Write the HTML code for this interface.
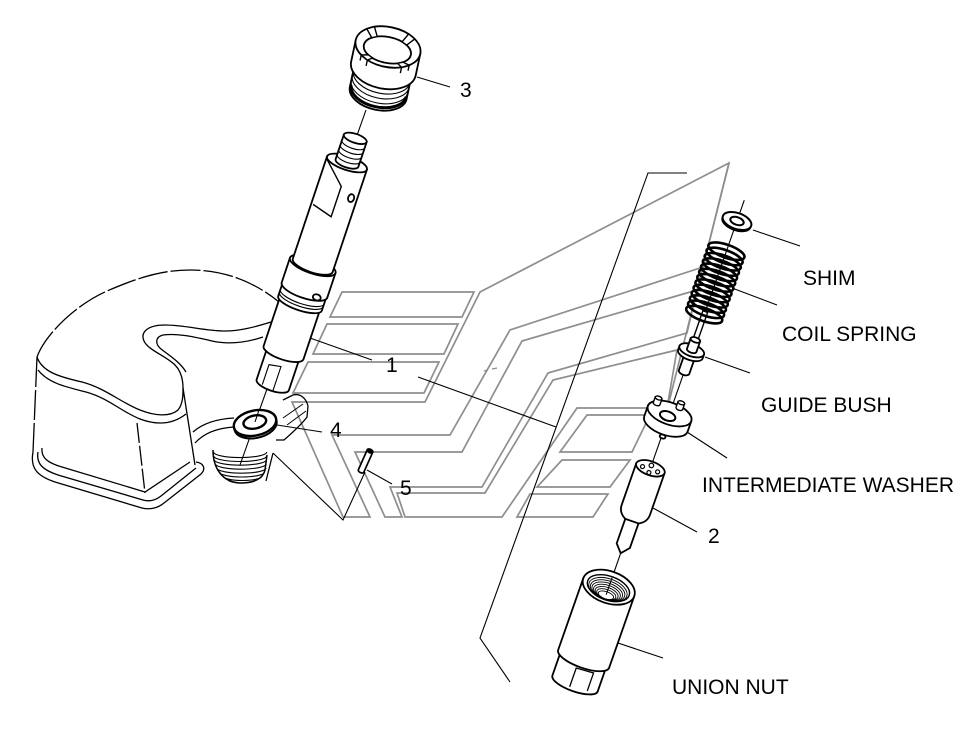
<!DOCTYPE html>
<html><head><meta charset="utf-8"><style>
html,body{margin:0;padding:0;background:#fff;}
svg{display:block;}
text{font-family:"Liberation Sans",Arial,sans-serif;font-size:21px;fill:#000;}
</style></head><body>
<svg width="980" height="737" viewBox="0 0 980 737" xmlns="http://www.w3.org/2000/svg">
<rect width="980" height="737" fill="#fff"/>

<!-- gray watermark bands -->
<g fill="none" stroke="#8e8e8e" stroke-width="1.7" stroke-linejoin="miter">
  <polygon points="729,163 480,292 425,402 292,402 343,517 370,517 332,435 450,435 510,330 703,267"/>
  <polygon points="697,290 522,341 462,452 355,452 385,517 402,517 390,487 482,487 548,373 687,333"/>
  <polygon points="677,350 553,380 485,493 397,493 405,517 502,517 577,408 667,408"/>
  <line x1="729" y1="163" x2="662" y2="430"/>
  <polygon points="342,292 474,292 462,317 330,317"/>
  <polygon points="327,324 458,324 444,354 313,354"/>
  <polygon points="308,362 439,362 424,393 293,393"/>
  <polygon points="587,415 650,415 632,452 560,452"/>
  <polygon points="562,460 630,460 610,487 537,487"/>
  <polygon points="530,494 608,494 593,517 517,517"/>
  <line x1="484" y1="371" x2="488" y2="370" stroke-width="1.2"/>
  <line x1="492" y1="369" x2="497" y2="368" stroke-width="1.2"/>
</g>

<!-- black thin leaders / bracket -->
<g fill="none" stroke="#000" stroke-width="1.1">
  <polyline points="687,173 648,173 480,638 510,682"/>
  <line x1="417" y1="77" x2="450" y2="87"/>
  <line x1="310" y1="338" x2="372" y2="360"/>
  <line x1="418" y1="377" x2="556" y2="427"/>
  <line x1="277" y1="425" x2="322" y2="432"/>
  <line x1="367" y1="470" x2="392" y2="484"/>
  <line x1="753" y1="230" x2="800" y2="246"/>
  <line x1="732" y1="288" x2="777" y2="305"/>
  <line x1="705" y1="357" x2="750" y2="373"/>
  <line x1="687" y1="432" x2="727" y2="458"/>
  <line x1="653" y1="508" x2="697" y2="532"/>
  <line x1="615" y1="642" x2="663" y2="658"/>
  <polyline points="273,453 343,520 365,472"/>
</g>

<!-- cylinder head -->
<g fill="none" stroke="#000" stroke-width="1.3">
  <path d="M37,357 C45,335 75,305 107,291 C135,279 160,270 190,270 C222,270 252,280 279,302" stroke-dasharray="30 3"/>
  <path d="M37,357 L33,452" stroke-dasharray="30 3"/>
  <path d="M37,357 C42,372 60,377 82,382 C105,388 120,402 140,410 C155,416 170,417 178,410 C183,404 183,395 183,388"/>
  <path d="M38,370 C48,383 66,387 86,392 C108,398 122,412 140,419 C156,425 172,425 186,414"/>
  <path d="M271,322 C255,327 240,331 225,331 C205,331 185,325 165,325 C148,325 140,332 144,341 C148,350 166,356 175,365 C181,371 183,380 183,388"/>
  <path d="M263,337 C248,342 230,345 212,341 C195,337 178,333 163,335 C155,337 155,344 161,349 C170,356 180,362 186,372"/>
  <path d="M183,388 L195,465"/>
  <path d="M137,423 L145,493" stroke-dasharray="20 3"/>
  <path d="M33,452 C30,468 37,476 55,482 L142,508 C150,510 158,508 164,503 L201,474 C206,469 204,463 196,462"/>
  <path d="M38,452 C36,464 43,470 58,475 L143,500 C150,502 156,500 161,496 L196,468"/>
  <path d="M42,448 C41,458 48,463 62,467 L145,492 L190,462"/>
  <path d="M193,432 C202,424 216,419 234,418"/>
  <path d="M195,443 C204,433 218,428 234,427"/>
  <path d="M276,440 L284,440 C292,433 302,424 307,417 L308,406 C306,398 300,393 293,395 L283,400"/>
  <path d="M283,418 L303,404 M287,425 L306,411" stroke-width="1"/>
  <path d="M273,453 L266,481"/>
  <!-- threaded hole (bowl) -->
  <path d="M213,450 C213,468 222,482 240,483 C255,483 263,478 265,470 L267,455" stroke-width="1.5"/>
  <g stroke-width="1.1">
    <path d="M213.5,452 A26.5,5.5 0 0 0 266.8,452"/>
    <path d="M213.8,456 A26.4,5.5 0 0 0 266.6,456"/>
    <path d="M214.2,460 A26.2,5.5 0 0 0 266.5,460"/>
    <path d="M215.3,464 A25.6,5.5 0 0 0 266.4,464"/>
    <path d="M217,468 A24.5,5.2 0 0 0 266,468"/>
    <path d="M219.5,472 A22.5,5 0 0 0 264.5,472"/>
    <path d="M223,476 A19.5,4.5 0 0 0 262,476"/>
    <path d="M228,479.5 A14,3.5 0 0 0 256,479.5"/>
  </g>
</g>

<line x1="366" y1="110" x2="240" y2="465" stroke="#000" stroke-width="1.1"/>

<!-- washer 4 -->
<g transform="translate(255,423) rotate(-12)" fill="#fff" stroke="#000">
  <ellipse cx="0" cy="2.5" rx="21.5" ry="12.5" stroke-width="2"/>
  <ellipse cx="0" cy="0" rx="21.5" ry="12.5" stroke-width="2.4"/>
  <ellipse cx="0" cy="-1" rx="11.5" ry="6.5" stroke-width="2.4"/>
</g>
<line x1="255" y1="422" x2="259" y2="410" stroke="#000" stroke-width="1.1"/>

<!-- pin 5 -->
<g transform="translate(370,451) rotate(24)" fill="#fff" stroke="#000" stroke-width="1.7">
  <path d="M-3,0 L-3,22 A3,1.6 0 0 0 3,22 L3,0 Z"/>
  <ellipse cx="0" cy="0" rx="3" ry="1.8" fill="#000"/>
</g>

<!-- injector body (1) -->
<g transform="translate(347,163) rotate(18.5)" fill="#fff" stroke="#000" stroke-width="1.8">
  <path d="M-17,198 L-17,234 A17,6 0 0 0 17,234 L17,198 Z"/>
  <path d="M-10,237 L-10,216 L2,214 L2,239" fill="none" stroke-width="1.1"/>
  <path d="M-21,145 L-21,200 A21,7 0 0 0 21,200 L21,145 Z"/>
  <path d="M-23,134 L-23,148 A23,7 0 0 0 23,148 L23,134 Z"/>
  <path d="M-23,141 A23,7 0 0 0 23,141" fill="none" stroke-width="1.1"/>
  <path d="M-23,144 A23,7 0 0 0 23,144" fill="none" stroke-width="1.1"/>
  <path d="M-24,108 L-24,134 A24,8 0 0 0 24,134 L24,108 Z"/>
  <ellipse cx="0" cy="108" rx="24" ry="8"/>
  <path d="M-21,0 L-21,108 A21,7 0 0 0 21,108 L21,0 Z"/>
  <ellipse cx="0" cy="0" rx="21" ry="7"/>
  <path d="M-21,2 L2,24 L2,56 L-19,50" fill="none" stroke-width="1.4"/>
  <ellipse cx="15" cy="32" rx="3" ry="4"/>
  <ellipse cx="14" cy="137" rx="4" ry="3"/>
  <path d="M-12,-26 L-12,0 A12,4.5 0 0 0 12,0 L12,-26 Z"/>
  <g fill="none" stroke-width="1.1">
    <path d="M-12,-20 A12,4.5 0 0 0 12,-20"/>
    <path d="M-12,-15 A12,4.5 0 0 0 12,-15"/>
    <path d="M-12,-10 A12,4.5 0 0 0 12,-10"/>
    <path d="M-12,-5 A12,4.5 0 0 0 12,-5"/>
  </g>
  <ellipse cx="0" cy="-26" rx="12" ry="4.5"/>
</g>

<!-- cap nut (3) -->
<g transform="translate(388,47) rotate(12)" fill="#fff" stroke="#000" stroke-width="1.8">
  <path d="M-29,20 L-29,47 A29,17 0 0 0 29,47 L29,20 Z"/>
  <g fill="none" stroke-width="1.1">
    <path d="M-29,30 A29,17 0 0 0 29,30"/>
    <path d="M-29,35 A29,17 0 0 0 29,35"/>
    <path d="M-29,40 A29,17 0 0 0 29,40"/>
  </g>
  <path d="M-28,45 A28,16 0 0 0 28,45" fill="none" stroke-width="3"/>
  <path d="M-33,0 L-33,22 A33,20 0 0 0 33,22 L33,0 Z"/>
  <ellipse cx="0" cy="0" rx="33" ry="20"/>
  <ellipse cx="0" cy="3" rx="24" ry="13"/>
  <g stroke-width="1.4">
    <polygon points="17.8,11.7 24.5,13.4 17.5,17 12.7,14"/>
    <polygon points="-12.7,14 -17.5,17 -24.5,13.4 -17.8,11.7"/>
    <polygon points="-17.8,-5.7 -24.5,-13.4 -17.5,-17 -12.7,-8"/>
    <polygon points="12.7,-8 17.5,-17 24.5,-13.4 17.8,-5.7"/>
    <path d="M24.5,13.4 L24.5,19 M17.5,17 L17.5,23 M-17.5,17 L-17.5,23 M-24.5,13.4 L-24.5,19" fill="none"/>
  </g>
</g>

<!-- right assembly -->
<g transform="translate(737,221) rotate(19.3)" fill="#fff" stroke="#000" stroke-width="1.8">
  <line x1="0" y1="-22" x2="0" y2="400" stroke-width="1.1"/>
  <!-- union nut -->
  <path d="M-24,462 L-24,490 A24,8 0 0 0 24,490 L24,462 Z"/>
  <path d="M-4,495 L-4,475 L14,474 L14,493" fill="none" stroke-width="1.3"/>
  <path d="M-27,388 L-27,464 A27,9 0 0 0 27,464 L27,388 Z"/>
  <ellipse cx="0" cy="388" rx="27" ry="16"/>
  <ellipse cx="0" cy="389" rx="22" ry="12" stroke-width="1.4"/>
  <g fill="none" stroke-width="0.9">
    <ellipse cx="0" cy="390.5" rx="20" ry="10.8"/>
    <ellipse cx="0" cy="391.5" rx="18" ry="9.6"/>
    <ellipse cx="0" cy="392.5" rx="16" ry="8.4"/>
    <ellipse cx="0" cy="393.5" rx="14" ry="7.2"/>
    <ellipse cx="0" cy="394.5" rx="12" ry="6"/>
    <ellipse cx="0" cy="395.5" rx="10" ry="4.8"/>
    <ellipse cx="0" cy="396.5" rx="8" ry="3.6"/>
  </g>
  <line x1="0" y1="378" x2="0" y2="396" stroke-width="1.1"/>
  <!-- nozzle -->
  <path d="M-7,314 L-7,344 L0,352 L7,344 L7,314 Z"/>
  <path d="M-15,262 L-15,306 Q-15,314 -7,318 L7,318 Q15,314 15,306 L15,262 Z"/>
  <ellipse cx="0" cy="262" rx="15" ry="7"/>
  <g stroke-width="1.2">
    <circle cx="-8" cy="263" r="2"/>
    <circle cx="0" cy="266.5" r="2"/>
    <circle cx="8" cy="263" r="2"/>
    <circle cx="0" cy="259" r="2.3"/>
  </g>
  <!-- intermediate washer -->
  <ellipse cx="1" cy="228" rx="3" ry="2"/>
  <path d="M-23,204 L-23,215 A23,11 0 0 0 23,215 L23,204 Z"/>
  <ellipse cx="0" cy="204" rx="23" ry="11"/>
  <path d="M4,190 L4,196 A3.5,1.8 0 0 0 11,196 L11,190 Z" stroke-width="1.4"/>
  <ellipse cx="7.5" cy="190" rx="3.5" ry="1.8" stroke-width="1.4"/>
  <path d="M-19,193 L-19,199 A3.5,1.8 0 0 0 -12,199 L-12,193 Z" stroke-width="1.4"/>
  <ellipse cx="-15.5" cy="193" rx="3.5" ry="1.8" stroke-width="1.4"/>
  <ellipse cx="-1" cy="207" rx="8" ry="4.5" stroke-width="2"/>
  <!-- guide bush -->
  <path d="M-5.5,141 L-5.5,160 A5.5,3 0 0 0 5.5,160 L5.5,141 Z"/>
  <path d="M-13,137 L-13,141 A13,6 0 0 0 13,141 L13,137 Z"/>
  <ellipse cx="0" cy="137" rx="13" ry="6"/>
  <path d="M-2.5,96 L-2.5,130 L2.5,130 L2.5,96 Z" stroke-width="1.4"/>
  <path d="M-5,126 L-5,137 A5,2.5 0 0 0 5,137 L5,126 Z"/>
  <ellipse cx="0" cy="126" rx="5" ry="2.5"/>
  <!-- spring -->
  <g fill="none" stroke-width="2.6">
    <ellipse cx="0" cy="32" rx="19" ry="6.5"/>
    <ellipse cx="0" cy="37.6" rx="19" ry="6.5"/>
    <ellipse cx="0" cy="43.2" rx="19" ry="6.5"/>
    <ellipse cx="0" cy="48.8" rx="19" ry="6.5"/>
    <ellipse cx="0" cy="54.4" rx="19" ry="6.5"/>
    <ellipse cx="0" cy="60" rx="19" ry="6.5"/>
    <ellipse cx="0" cy="65.6" rx="19" ry="6.5"/>
    <ellipse cx="0" cy="71.2" rx="19" ry="6.5"/>
    <ellipse cx="0" cy="76.8" rx="19" ry="6.5"/>
    <ellipse cx="0" cy="82.4" rx="19" ry="6.5"/>
    <ellipse cx="0" cy="88" rx="19" ry="6.5"/>
    <ellipse cx="0" cy="93.6" rx="19" ry="6.5"/>
    <ellipse cx="0" cy="99.2" rx="19" ry="6.5"/>
  </g>
  <!-- shim -->
  <ellipse cx="0" cy="1.5" rx="15" ry="8" stroke-width="1.6"/>
  <ellipse cx="0" cy="0" rx="15" ry="8" stroke-width="2"/>
  <ellipse cx="0" cy="0" rx="7" ry="3.8" stroke-width="2"/>
</g>

<!-- labels -->
<text x="460" y="97">3</text>
<text x="386" y="372">1</text>
<text x="330" y="437">4</text>
<text x="400" y="495">5</text>
<text x="708" y="543">2</text>
<text x="803" y="285">SHIM</text>
<text x="782" y="341">COIL SPRING</text>
<text x="761" y="412">GUIDE BUSH</text>
<text x="702" y="492">INTERMEDIATE WASHER</text>
<text x="672" y="694">UNION NUT</text>
</svg>
</body></html>
